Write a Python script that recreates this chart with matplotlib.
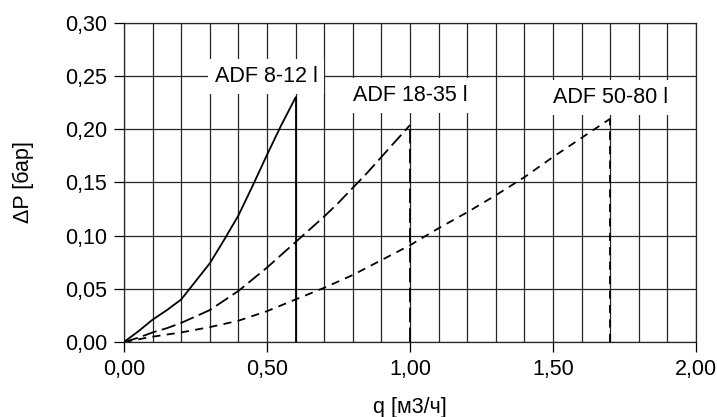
import matplotlib
matplotlib.use("Agg")
import matplotlib.pyplot as plt
from matplotlib.ticker import FuncFormatter, MultipleLocator


# ADF 8-12 l
q_small = [0.0, 0.05, 0.1, 0.15, 0.2, 0.25, 0.3, 0.35, 0.4, 0.45, 0.5, 0.55, 0.6]
dp_small = [0.0, 0.010, 0.021, 0.030, 0.040, 0.057, 0.074, 0.096, 0.119,
            0.147, 0.176, 0.204, 0.230]

# ADF 18-35 l
q_medium = [0.0, 0.05, 0.1, 0.15, 0.2, 0.25, 0.3, 0.35, 0.4, 0.45, 0.5,
            0.55, 0.6, 0.65, 0.7, 0.75, 0.8, 0.85, 0.9, 0.95, 1.0]
dp_medium = [0.0, 0.004, 0.009, 0.013, 0.018, 0.024, 0.030, 0.039, 0.048, 0.059,
             0.070, 0.082, 0.094, 0.106, 0.118, 0.131, 0.145, 0.159, 0.174, 0.189, 0.204]

# ADF 50-80 l
q_large = [0.0, 0.1, 0.2, 0.3, 0.4, 0.5, 0.6, 0.7, 0.8, 0.9,
           1.0, 1.1, 1.2, 1.3, 1.4, 1.5, 1.6, 1.7]
dp_large = [0.0, 0.005, 0.009, 0.014, 0.020, 0.029, 0.040, 0.051, 0.063, 0.077,
            0.091, 0.107, 0.122, 0.138, 0.155, 0.174, 0.192, 0.210]

series_names = ["ADF 8-12 l", "ADF 18-35 l", "ADF 50-80 l"]
label_positions = [(0.497, 0.250), (1.0, 0.232), (1.70, 0.230)]

x_label = "q [м3/ч]"
y_label = "ΔP [бар]"


def comma_format(value, _pos):
    return f"{value:.2f}".replace(".", ",")


def main():
    plt.rcParams["font.family"] = ["Liberation Sans", "DejaVu Sans"]
    font_size = 15.5

    fig = plt.figure(figsize=(7.17, 4.17), dpi=100)
    ax = fig.add_axes([124 / 717, 75 / 417, 572 / 717, 319 / 417])

    styles = [
        {"linestyle": "-", "linewidth": 1.3},
        {"linestyle": (0, (8, 3)), "linewidth": 1.3},
        {"linestyle": (0, (4.5, 3.5)), "linewidth": 1.3},
    ]
    all_series = [(q_small, dp_small), (q_medium, dp_medium), (q_large, dp_large)]

    for (q, dp), style in zip(all_series, styles):
        ax.plot(q, dp, color="black", zorder=3, **style)
        ax.vlines(q[-1], 0, dp[-1], color="black", zorder=3, **style)

    for name, (x, y) in zip(series_names, label_positions):
        ax.text(x, y, name, ha="center", va="center", fontsize=font_size, zorder=4,
                bbox=dict(facecolor="white", edgecolor="none", pad=5))

    ax.set_xlim(0, 2.0)
    ax.set_ylim(0, 0.30)
    ax.xaxis.set_major_locator(MultipleLocator(0.5))
    ax.xaxis.set_minor_locator(MultipleLocator(0.1))
    ax.yaxis.set_major_locator(MultipleLocator(0.05))
    ax.xaxis.set_major_formatter(FuncFormatter(comma_format))
    ax.yaxis.set_major_formatter(FuncFormatter(comma_format))

    ax.grid(True, which="both", color="#262626", linewidth=0.9)
    ax.set_axisbelow(True)
    ax.tick_params(which="major", length=7, width=0.9, pad=5, labelsize=font_size)
    ax.tick_params(which="minor", length=0)

    for spine in ax.spines.values():
        spine.set_color("#262626")
        spine.set_linewidth(0.9)

    ax.set_xlabel(x_label, fontsize=font_size)
    ax.set_ylabel(y_label, fontsize=font_size)
    ax.xaxis.set_label_coords(0.5, -0.172)
    ax.yaxis.set_label_coords(-0.158, 0.5)

    fig.savefig("out.png", dpi=100)
    plt.close(fig)


if __name__ == "__main__":
    main()
